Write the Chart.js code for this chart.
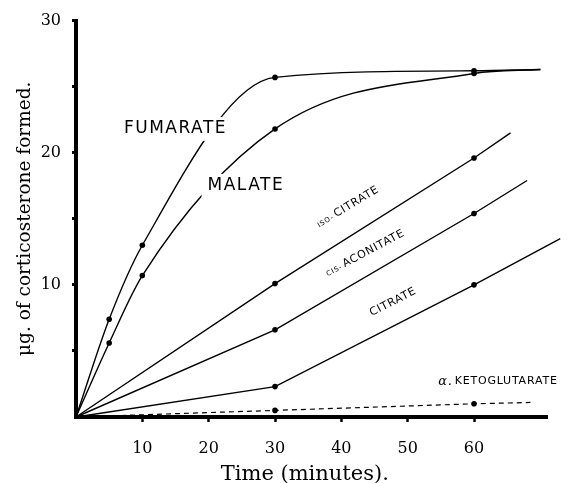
<!DOCTYPE html>
<html>
<head>
<meta charset="utf-8">
<script src="https://cdn.jsdelivr.net/npm/chart.js@4/dist/chart.umd.min.js"></script>
<style>
  html, body { margin: 0; padding: 0; background: #fff; }
  #wrap { width: 567px; height: 484px; }
</style>
</head>
<body>
<div id="wrap"><canvas id="chart"></canvas></div>
<script>
// time (minutes) and corticosterone formed (µg) for each substrate
const fumarateT = [0, 5, 10, 30, 60, 70];
const fumarateY = [0, 7.4, 13.0, 25.7, 26.2, 26.3];
const malateT = [0, 5, 10, 30, 60, 70];
const malateY = [0, 5.6, 10.7, 21.8, 26.0, 26.3];
const isoCitrateT = [0, 30, 60, 65.5];
const isoCitrateY = [0, 10.1, 19.6, 21.5];
const cisAconitateT = [0, 30, 60, 68];
const cisAconitateY = [0, 6.6, 15.4, 17.9];
const citrateT = [0, 30, 60, 73];
const citrateY = [0, 2.3, 10.0, 13.5];
const ketoT = [0, 30, 60, 68.5];
const ketoY = [0, 0.5, 1.0, 1.1];

// times where a measurement dot was drawn
const markedTimes = [5, 10, 30, 60];
const xTicks = [10, 20, 30, 40, 50, 60];
const yTicks = [5, 10, 15, 20, 25, 30];
const yLabelled = [10, 20, 30];

// curve labels, placed in data units
const curveLabels = [
  { text: 'FUMARATE', t: 15.0, v: 21.8, size: 17, angle: 0, mask: true },
  { text: 'MALATE', t: 25.6, v: 17.5, size: 17, angle: 0, mask: true },
  { small: 'ISO-', text: 'CITRATE', t: 41.0, v: 15.9, size: 11, angle: -31 },
  { small: 'CIS-', text: 'ACONITATE', t: 43.6, v: 12.4, size: 11, angle: -28 },
  { text: 'CITRATE', t: 47.8, v: 8.7, size: 11, angle: -27 },
  { small: 'α.', text: 'KETOGLUTARATE', t: 63.6, v: 2.7, size: 11, angle: 0 }
];

const toPoints = (ts, ys) => ts.map((t, i) => ({ x: t, y: ys[i] }));
const dotRadius = ts => ts.map(t => markedTimes.includes(t) ? 2.8 : 0);

function series(ts, ys, extra) {
  return Object.assign({
    data: toPoints(ts, ys),
    borderColor: '#000',
    backgroundColor: '#000',
    borderWidth: 1.4,
    pointRadius: dotRadius(ts),
    pointBorderWidth: 0,
    tension: 0,
    clip: false
  }, extra);
}

const labelPlugin = {
  id: 'curveLabels',
  afterDatasetsDraw(chart) {
    const { ctx, scales: { x, y } } = chart;
    curveLabels.forEach(l => {
      const px = x.getPixelForValue(l.t);
      const py = y.getPixelForValue(l.v);
      ctx.save();
      ctx.translate(px, py);
      ctx.rotate(l.angle * Math.PI / 180);
      ctx.textBaseline = 'middle';
      ctx.fillStyle = '#000';
      const bigFont = l.size + 'px "DejaVu Sans", sans-serif';
      const smallFont = Math.round(l.size * 0.6) + 'px "DejaVu Sans", sans-serif';
      const alphaFont = 'italic ' + (l.size + 2) + 'px "DejaVu Serif", serif';
      ctx.letterSpacing = l.size > 14 ? '1.5px' : '0.8px';
      ctx.font = bigFont;
      const wBig = ctx.measureText(l.text).width;
      let wSmall = 0;
      if (l.small) {
        ctx.font = l.small === 'α.' ? alphaFont : smallFont;
        wSmall = ctx.measureText(l.small).width + 2;
      }
      const total = wBig + wSmall;
      let left = -total / 2;
      if (l.mask) {
        ctx.fillStyle = '#fff';
        ctx.fillRect(left - 6, -l.size * 0.7, total + 12, l.size * 1.4);
        ctx.fillStyle = '#000';
      }
      ctx.textAlign = 'left';
      if (l.small) {
        ctx.font = l.small === 'α.' ? alphaFont : smallFont;
        ctx.fillText(l.small, left, l.small === 'α.' ? 0 : 1);
        left += wSmall;
      }
      ctx.font = bigFont;
      ctx.fillText(l.text, left, 0);
      ctx.restore();
    });
  }
};

const serif = '"DejaVu Serif", "Liberation Serif", serif';

new Chart(document.getElementById('chart'), {
  type: 'line',
  data: {
    datasets: [
      series(fumarateT, fumarateY, { cubicInterpolationMode: 'monotone' }),
      series(malateT, malateY, { cubicInterpolationMode: 'monotone' }),
      series(isoCitrateT, isoCitrateY),
      series(cisAconitateT, cisAconitateY),
      series(citrateT, citrateY),
      series(ketoT, ketoY, { borderDash: [5, 4], borderWidth: 1.2 })
    ]
  },
  options: {
    responsive: true,
    maintainAspectRatio: false,
    animation: false,
    layout: { padding: { left: 0, top: 13, right: 20, bottom: 0 } },
    plugins: {
      legend: { display: false },
      tooltip: { enabled: false }
    },
    scales: {
      x: {
        type: 'linear',
        min: 0,
        max: 71,
        afterBuildTicks: s => { s.ticks = xTicks.map(v => ({ value: v })); },
        afterFit: s => { s.height = 67; },
        border: { display: true, width: 4, color: '#000' },
        grid: { drawOnChartArea: false, drawTicks: true, tickLength: 5, tickWidth: 2.5, color: '#000' },
        ticks: { color: '#000', padding: 17, maxRotation: 0, font: { family: serif, size: 16 } },
        title: {
          display: true,
          text: 'Time (minutes).\u00a0\u00a0',
          color: '#000',
          font: { family: serif, size: 21 },
          padding: { top: 0, bottom: -3 }
        }
      },
      y: {
        min: 0,
        max: 30,
        afterBuildTicks: s => { s.ticks = yTicks.map(v => ({ value: v })); },
        afterFit: s => { s.width = 76; },
        border: { display: true, width: 4, color: '#000' },
        grid: { drawOnChartArea: false, drawTicks: true, tickLength: 4, tickWidth: 3, color: '#000' },
        ticks: {
          color: '#000',
          padding: 11,
          font: { family: serif, size: 16 },
          callback: v => yLabelled.includes(v) ? String(v) : ''
        },
        title: {
          display: true,
          text: 'μg. of corticosterone formed.',
          color: '#000',
          font: { family: serif, size: 18.5 },
          padding: { top: 14, bottom: 0 }
        }
      }
    }
  },
  plugins: [labelPlugin]
});
</script>
</body>
</html>
